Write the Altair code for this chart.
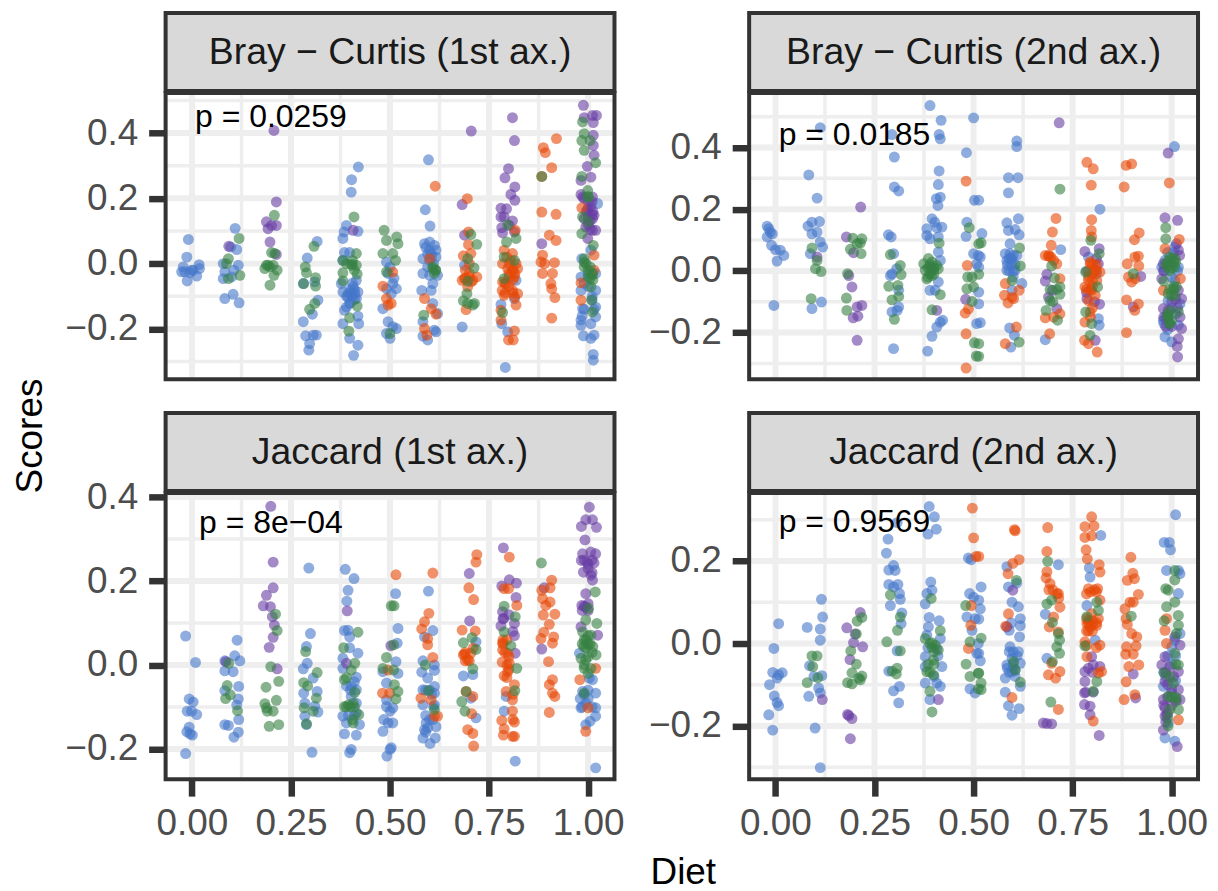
import altair as alt
import pandas as pd

titles = ["Bray \u2212 Curtis (1st ax.)", "Bray \u2212 Curtis (2nd ax.)", "Jaccard (1st ax.)", "Jaccard (2nd ax.)"]
pvals = ["p = 0.0259", "p = 0.0185", "p = 8e\u221204", "p = 0.9569"]
p_x = [0.008, 0.008, 0.018, 0.008]
p_y = [0.448, 0.442, 0.339, 0.295]
y_domains = [[-0.354, 0.523], [-0.351, 0.577], [-0.272, 0.41], [-0.329, 0.365]]
y_major = [[-0.2, 0, 0.2, 0.4], [-0.2, 0, 0.2, 0.4], [-0.2, 0, 0.2, 0.4], [-0.2, 0, 0.2]]
y_minor = [[-0.3, -0.1, 0.1, 0.3, 0.5], [-0.3, -0.1, 0.1, 0.3, 0.5], [-0.1, 0.1, 0.3], [-0.3, -0.1, 0.1, 0.3]]
x_major = [0, 0.25, 0.5, 0.75, 1]
x_minor = [0.125, 0.375, 0.625, 0.875]

bc1_blue = [(-.009,.074),(-.013,.02),(-.022,-.01),(.018,-.003),(-.018,-.025),(-.005,-.028),(-.012,-.053),(.012,-.038),(.003,-.02),(-.026,-.025),(-.001,-.02),(.019,-.015),
(.109,.108),(.113,.043),(.098,.051),(.079,0),(.117,-.005),(.083,-.025),(.106,-.02),(.079,-.046),(.1,-.041),(.083,-.107),(.104,-.094),(.119,-.12),
(.316,.068),(.291,.017),(.281,-.061),(.31,-.056),(.318,-.112),(.304,-.155),(.281,-.178),(.287,-.221),(.314,-.219),(.297,-.245),(.295,-.265),(.306,-.219),
(.42,.296),(.403,.257),(.402,.219),(.39,.117),(.384,.097),(.419,.099),(.381,.077),(.385,.034),(.398,.034),(.381,.01),(.377,-.061),(.381,-.087),(.407,-.071),(.419,-.087),(.402,-.092),(.415,-.107),(.398,-.122),(.385,-.143),(.419,-.161),(.381,-.184),(.421,-.184),(.398,-.229),(.419,-.25),(.408,-.281),(.394,-.102),(.411,-.092),(.39,-.133),(.415,-.051),
(.491,.005),(.5,-.01),(.491,-.077),(.507,-.061),(.516,-.077),(.503,-.092),(.482,-.138),(.495,-.178),(.507,-.193),(.516,-.199),(.491,-.214),(.5,-.229),(.495,-.03),(.51,-.045),
(.597,.318),(.589,.165),(.601,.115),(.587,.061),(.6,.066),(.612,.056),(.616,.041),(.583,.015),(.604,.031),(.616,.02),(.583,-.03),(.6,-.036),(.62,-.036),(.608,-.061),(.58,-.082),(.604,-.082),(.608,-.122),(.62,-.153),(.583,-.178),(.612,-.204),(.583,-.222),(.595,-.234),(.616,-.209),(.6,.01),
(.682,-.194),(.688,-.005),(.78,-.125),(.782,-.184),(.797,-.209),(.791,-.318),(.818,-.051),(.814,-.107),
(1.024,.184),(.984,.015),(1.007,.041),(.982,-.041),(1.019,-.03),(.982,-.082),(1.019,-.082),(.986,-.138),(1.019,-.133),(.982,-.173),(.982,-.189),(1.007,-.184),(.988,-.221),(1.007,-.229),(1.015,-.219),(1.013,-.278),(1.013,-.296),(1.019,-.163),
(1,-.07),(.99,-.06),(1.01,-.1),(.99,-.14),(.985,-.16),(1.01,-.11),(1.015,-.14),(1,-.03),
(.4,-.08),(.405,-.1),(.41,-.08),(.395,-.09),(.41,-.11),(.4,-.12),(.39,-.1),(.405,-.06),
(.605,.02),(.595,-.01),(.6,.04),(.59,.05),(.61,0),(.595,.03)]
bc1_purple = [(.093,.053),(.207,.408),(.213,.189),(.188,.128),(.201,.117),(.213,.117),(.192,.107),(.197,.066),(.213,.028),(.407,.102),
(.705,.406),(.682,.181),(.688,.087),(.809,.447),(.814,.377),(.799,.291),(.79,.263),(.815,.235),(.805,.212),(.815,.194),(.78,.17),(.794,.168),(.78,.143),(.788,.143),(.809,.131),(.782,.11),(.784,.094),(.801,.117),(.814,.097),(.883,.061),
(.988,.485),(.99,.447),(1.011,.454),(1.021,.454),(1.013,.432),(1.013,.393),(1.013,.362),(1.015,.332),(.998,.298),(1.007,.265),(.982,.255),(.982,.212),(1.011,.204),(1.007,.173),(1.015,.148),(.999,.163),(.99,.138),(1.011,.102),(1.019,.102),(.999,.077),(.986,.204),(.994,.112),(1.011,.138),
(1,.17),(1.01,.15),(1.005,.13),(.995,.16),(1.012,.16),(1,.12),(.99,.2),(1,.19),(1.01,.19),(1,.14),(1.005,.105)]
bc1_orange = [(.482,-.069),(.491,-.107),(.495,-.127),(.503,-.122),(.507,-.026),(.614,.237),(.6,.015),(.587,-.107),(.604,-.138),(.587,-.199),(.593,-.219),(.616,-.155),
(.695,.199),(.698,.097),(.698,.058),(.685,.024),(.704,.031),(.69,-.02),(.719,-.041),(.688,-.046),(.709,-.051),(.682,-.051),(.7,-.041),(.692,-.141),(.696,-.071),
(.816,.102),(.788,.041),(.809,.031),(.784,0),(.822,-.015),(.797,-.015),(.809,-.02),(.814,-.041),(.784,-.056),(.793,-.061),(.783,-.082),(.809,-.082),(.822,-.092),(.788,-.097),(.814,-.102),(.818,-.127),(.78,-.143),(.78,-.173),(.814,-.206),(.799,-.234),(.811,-.234),(.801,0),(.818,0),
(.92,.383),(.887,.355),(.892,.34),(.908,.294),(.883,.158),(.919,.151),(.902,.087),(.919,.071),(.885,.026),(.881,.005),(.89,0),(.915,.003),(.885,-.03),(.91,-.03),(.906,-.061),(.908,-.077),(.916,-.104),(.908,-.167),(.883,.267),
(.984,.171),(1.015,.026),(.982,-.059),(1.015,-.02),(.982,-.112),
(.8,-.03),(.81,-.02),(.79,-.06),(.81,-.05),(.8,-.07),(.795,.02),(.805,.01),(.815,-.03),(.8,-.04),(.79,-.09),(.81,-.09),
(.7,-.03),(.705,-.055),(.69,-.045),(.7,0)]
bc1_green = [(.119,.077),(.092,.015),(.087,0),(.121,-.036),(.092,-.046),(.208,.148),(.201,.034),(.209,.031),(.192,-.005),(.205,-.005),(.184,-.015),(.197,-.01),(.215,-.02),(.207,-.036),(.197,-.066),(.188,-.005),
(.308,.053),(.286,-.01),(.289,-.028),(.312,-.043),(.282,-.061),(.312,-.069),(.31,-.122),(.297,-.14),
(.409,.143),(.415,.031),(.381,.01),(.405,-.002),(.415,-.005),(.381,-.028),(.417,-.032),(.381,-.053),(.417,-.13),(.398,-.166),(.396,-.207),(.402,-.005),
(.485,.102),(.491,.071),(.482,.031),(.491,-.025),(.517,.082),(.52,.061),(.507,.031),(.514,.01),(.5,-.214),(.615,-.02),(.585,-.158),(.608,-.01),
(.704,.089),(.719,.059),(.696,.015),(.712,-.013),(.696,-.054),(.694,-.092),(.685,-.114),(.709,-.127),(.696,-.122),(.713,-.122),
(.797,.119),(.818,.077),(.794,.066),(.788,.02),(.814,.01),(.788,-.046),(.784,-.15),(.883,.267),
(.986,.434),(.99,.398),(.984,.377),(1.005,.377),(.99,.347),(1.019,.309),(.984,.267),(.999,.224),(1,.204),(.986,.143),(1,.128),(.984,.092),(1.013,.056),(.99,.005),(.99,-.01),(1.011,-.03),(1.007,-.071),(1.009,-.112),(1.011,-.148),(1,-.04),
(.995,0),(.99,.015),(1.005,-.01),(1,-.02),(1.01,-.035),(1.005,-.045),(1.012,-.05),(1,.205),
(.405,.01),(.39,0),(.41,-.02),(.615,-.02),(.612,-.03),(.608,-.015)]

bc2_blue = [(-.021,.145),(-.013,.126),(-.008,.12),(-.021,.11),(-.01,.083),(0,.069),(.012,.067),(.021,.05),(.004,.032),(-.004,-.112),(-.017,.137),
(.084,.311),(.105,.236),(.082,.145),(.092,.158),(.111,.16),(.092,.12),(.105,.126),(.113,.094),(.119,.077),(.088,.056),(.116,-.101),(.092,-.122),(.113,.464),
(.294,.442),(.3,.369),(.3,.272),(.311,.259),(.285,.117),(.292,.11),(.298,.056),(.306,.007),(.29,-.015),(.294,-.01),(.311,-.117),(.294,-.133),(.307,-.128),(.298,-.252),(.311,-.063),
(.39,.536),(.418,.488),(.413,.442),(.416,.428),(.413,.324),(.411,.28),(.416,.239),(.406,.234),(.41,.212),(.395,.169),(.402,.158),(.382,.137),(.42,.142),(.407,.14),(.382,.115),(.39,.104),(.411,.11),(.411,.061),(.416,.034),(.39,-.063),(.411,-.036),(.403,-.063),(.416,-.166),(.407,-.182),(.395,-.212),(.384,-.26),(.422,-.16),
(.482,.383),(.5,.496),(.502,.229),(.483,.158),(.481,.112),(.512,.05),(.5,.056),(.508,.023),(.508,-.171),(.513,.229),(.521,.121),(.517,.045),(.513,.012),(.513,-.069),(.513,-.107),(.517,-.168),
(.609,.421),(.609,.403),(.588,.302),(.612,.302),(.588,.253),(.613,.169),(.584,.156),(.605,.134),(.588,.131),(.615,.117),(.592,.088),(.58,.056),(.592,.056),(.609,.05),(.584,.034),(.597,.034),(.584,.002),(.605,.002),(.622,-.041),(.597,-.063),(.591,-.185),(.603,-.209),(.594,-.247),
(.72,.069),(.681,-.223),(.819,.2),(.815,-.155),(.817,-.176),(.79,.045),
(1.007,.403),(1.008,.077),(.975,.012),(1.017,.012),(1,-.02),(.979,-.16),(1.017,-.176),(.983,-.214),(1,-.23),(1.008,-.031),(.991,-.096),(1.021,-.107),(.983,.034),
(.99,.06),(1.005,.06),(.98,0),(1.015,0),(.985,-.15),(1.01,-.14),(.98,-.17),(1,-.12),(.99,-.19),
(.81,-.01),(.785,0),(.595,.04),(.6,.05),(.59,.04),(.605,.02),(.595,.02),(.59,0),(.6,0),(.6,-.02),(.585,.02)]
bc2_purple = [(.105,.045),(.215,.207),(.179,.11),(.197,.059),(.185,-.015),(.193,-.052),(.218,-.112),(.206,-.117),(.208,-.147),(.196,-.152),(.206,-.225),(.407,-.128),(.48,-.092),
(.716,.48),(.685,-.011),(.681,-.033),(.699,-.063),(.71,-.122),(.689,-.085),(.781,.063),(.817,.072),(.786,-.09),(.818,-.108),(.807,-.225),(.815,.023),(.922,-.018),(.903,-.117),
(.991,.382),(1.015,.164),(.983,.172),(1.012,.088),(1.017,.067),(.979,.023),(1.025,-.09),(.979,-.122),(1.021,-.15),(1.017,-.22),(1.014,-.245),(1.015,-.279),(.975,-.025),(1.025,-.187),(1.017,-.063),(.991,-.128),
(.98,0),(1.01,-.09),(1,-.1),(.985,-.18),(.98,-.15),(1.015,-.12),(1,-.18),(1.02,.05),(.81,.04),(.785,-.07),(.805,-.1)]
bc2_orange = [(.481,.291),(.481,-.204),(.481,-.315),(.479,-.137),(.487,-.123),(.484,.018),(.58,-.041),(.578,-.079),(.615,-.063),(.587,-.104),(.597,-.085),(.608,-.182),(.58,-.236),(.601,-.09),
(.708,.17),(.699,.126),(.696,.083),(.681,.05),(.689,.048),(.702,.034),(.71,.023),(.718,-.025),(.681,-.152),(.718,-.139),(.702,-.15),(.692,-.204),
(.786,.352),(.802,.331),(.797,.278),(.798,.166),(.797,.131),(.798,.11),(.794,.023),(.807,.002),(.819,-.004),(.79,-.02),(.811,-.031),(.781,-.052),(.798,-.063),(.807,-.079),(.794,-.133),(.781,-.166),(.78,-.225),(.79,-.236),(.812,-.263),(.79,-.096),
(.899,.347),(.885,.342),(.88,.272),(.918,.123),(.906,.101),(.916,.048),(.907,.045),(.888,.023),(.917,.016),(.891,-.02),(.908,-.025),(.899,-.036),(.886,-.094),(.916,-.107),(.907,-.128),(.886,-.2),
(.994,.285),(1.019,.102),(.983,.072),(1.022,-.025),(.979,-.063),
(.8,.02),(.81,.02),(.79,0),(.8,-.01),(.795,.03),(.81,0),(.8,-.03),(.79,-.03),(.8,-.05),(.795,-.06),(.785,-.06),(.8,-.12),(.795,-.15),(.69,.05),(.695,.045)]
bc2_green = [(.092,.074),(.105,.034),(.101,.007),(.115,-.002),(.09,-.09),(.195,.106),(.218,.104),(.206,.088),(.214,.09),(.189,.07),(.216,.056),(.182,-.009),(.179,-.088),(.18,-.128),
(.29,.053),(.315,.018),(.317,-.012),(.286,-.05),(.309,-.047),(.311,-.083),(.294,-.094),(.3,-.157),
(.413,.09),(.386,.04),(.374,.023),(.395,.029),(.407,.018),(.39,.012),(.378,.002),(.399,.007),(.411,.007),(.382,-.026),(.395,-.015),(.416,-.077),(.395,-.126),
(.489,.14),(.513,.088),(.485,-.02),(.496,-.02),(.483,-.058),(.5,-.052),(.496,-.099),(.502,-.233),(.507,-.276),(.519,.091),(.513,-.011),(.513,-.236),(.513,-.277),
(.616,.074),(.618,.016),(.597,-.031),(.615,-.231),(.718,.265),(.697,.016),(.704,-.023),(.718,-.052),(.693,-.061),(.718,-.076),(.693,-.096),(.683,-.128),(.712,-.16),
(.796,.099),(.817,.056),(.783,-.004),(.813,-.052),(.783,-.133),(.798,-.171),(.794,-.209),(.903,-.009),
(.985,.14),(.985,.104),(.995,.045),(1.008,.04),(.991,.012),(1.008,.012),(.98,-.033),(1.012,-.052),(.991,-.074),(1.008,-.079),(1.017,-.133),(.991,-.15),(.995,-.171),
(.995,.02),(1,.01),(1.005,.03),(.99,.03),(.985,.02),(1,.04),(1.01,.03),(.995,0),(1.005,-.06),(.995,-.06),(1,-.08),(1.005,-.05),(.99,-.15),(.995,-.13),(1,-.16),(.995,-.17),(.99,-.14),
(.39,.02),(.395,0),(.4,.01),(.385,.01),(.39,-.01),(.4,-.01),(.385,-.02),(.7,-.1),(.71,-.06)]

ja1_blue = [(-.016,.069),(.009,.006),(-.007,-.081),(.003,-.088),(-.012,-.11),(-.001,-.11),(.012,-.118),(-.007,-.148),(-.013,-.159),(.001,-.167),(-.005,-.164),(-.016,-.211),
(.114,.059),(.108,.022),(.121,.01),(.083,.01),(.083,-.014),(.104,-.016),(.118,-.051),(.083,-.061),(.117,-.081),(.113,-.095),(.118,-.13),(.083,-.142),(.092,-.144),(.117,-.16),(.106,-.172),
(.295,.231),(.299,.075),(.289,.044),(.291,.004),(.281,-.009),(.306,-.031),(.282,-.067),(.316,-.063),(.285,-.091),(.318,-.112),(.285,-.122),(.289,-.142),(.303,-.208),(.31,-.098),
(.387,.228),(.409,.206),(.394,.178),(.391,.152),(.385,.082),(.394,.083),(.398,.067),(.398,.041),(.419,.028),(.381,.016),(.381,-.008),(.415,-.029),(.402,-.051),(.415,-.059),(.415,-.091),(.381,-.122),(.415,-.114),(.39,-.138),(.423,-.142),(.385,-.164),(.415,-.167),(.402,-.201),(.398,-.209),(.402,-.075),
(.491,-.043),(.482,-.016),(.491,-.099),(.484,-.13),(.482,-.158),(.5,-.201),(.492,-.217),(.491,-.083),(.5,-.11),(.495,-.138),(.514,.17),(.52,.087),(.518,.052),(.515,.008),(.507,-.102),(.507,-.138),(.503,-.197),(.52,-.02),
(.597,.176),(.608,.082),(.587,.067),(.583,.01),(.612,0),(.58,-.017),(.612,-.013),(.595,-.031),(.612,-.051),(.583,-.059),(.612,-.067),(.583,-.095),(.612,-.095),(.591,-.138),(.616,-.147),(.587,-.154),(.614,-.174),(.583,-.174),(.601,-.187),(.608,-.13),
(.717,.055),(.685,-.026),(.709,-.023),(.704,-.079),(.717,-.126),(.788,-.11),(.816,-.229),(.793,-.075),
(.978,.028),(1.011,-.035),(.986,-.063),(1.019,-.067),(.982,-.102),(1.019,-.102),(1.019,-.122),(.994,-.142),(1.005,-.134),(1.019,-.245),(1.003,-.031),(.994,-.091),
(.99,-.07),(.98,-.08),(1,-.06),(.985,-.1),(1.01,-.1),(1,-.08),
(.4,-.06),(.41,-.04),(.39,-.05),(.41,-.12),(.395,-.12),(.6,-.06),(.59,-.06),(.605,-.07),(.59,-.12),(.6,-.13),(.61,-.1),(.595,-.15),(.59,-.16)]
ja1_purple = [(.086,.008),(.199,.378),(.205,.245),(.205,.184),(.188,.166),(.18,.141),(.198,.139),(.203,.115),(.208,.095),(.205,.066),(.195,.042),(.215,-.009),(.392,.129),(.39,.004),(.502,.046),
(.7,.218),(.701,.105),(.786,.279),(.801,.203),(.819,.195),(.782,.188),(.818,.161),(.784,.127),(.787,.111),(.78,.093),(.814,.099),(.814,.07),(.816,.028),(.889,.184),(.883,.038),
(1.003,.376),(.994,.346),(1.011,.346),(.983,.33),(1.021,.328),(.992,.298),(.986,.265),(1.007,.269),(1.019,.265),(.983,.249),(.998,.245),(1.015,.243),(.988,.221),(1.007,.214),(1.011,.202),(.994,.17),(.984,.142),(1,.146),(.994,.138),(.982,.091),(1.024,.071),
(1,.24),(.99,.25),(1.01,.22),(.99,.14),(1,.13),(.985,.13),(1,.23),(1.01,.25),(.785,.11),(.8,.12),(.81,.08)]
ja1_orange = [(.481,-.067),(.495,-.012),(.515,.215),(.499,-.067),(.608,.219),(.598,.123),(.587,.103),(.58,.086),(.595,.063),(.595,.048),(.608,.018),(.578,-.079),(.604,-.083),(.612,-.122),(.62,-.122),
(.719,.263),(.717,.245),(.699,.184),(.711,.156),(.682,.083),(.715,.081),(.688,.026),(.704,.028),(.696,.012),(.692,-.063),(.709,-.075),(.706,-.116),(.696,-.154),(.709,-.163),(.711,-.193),(.685,.024),
(.801,.257),(.788,.182),(.799,.182),(.82,.142),(.784,.053),(.784,.036),(.797,.028),(.783,.007),(.801,.004),(.797,-.016),(.788,-.026),(.814,-.047),(.793,-.063),(.809,-.083),(.809,-.11),(.782,-.132),(.814,-.136),(.788,-.152),(.786,-.167),(.814,-.17),(.809,-.17),
(.908,.202),(.904,.184),(.883,.178),(.885,.158),(.904,.15),(.893,.142),(.887,.119),(.916,.121),(.902,.097),(.888,.078),(.881,.063),(.913,.067),(.91,.052),(.9,.008),(.91,-.035),(.902,-.047),(.91,-.067),(.916,-.075),(.902,-.113),
(.979,-.035),(1.019,-.008),(1,-.102),(.994,-.158),
(.795,.06),(.785,.05),(.79,.03),(.8,.02),(.785,.06),(.8,-.01),(.795,-.03),(.795,0),(.81,-.07),(.81,-.13),(.69,.03),(.7,.01),(.69,.01),(.71,.04)]
ja1_green = [(.093,.004),(.089,-.049),(.097,-.071),(.085,-.08),(.115,-.109),(.211,.121),(.215,.082),(.199,-.004),(.219,-.039),(.187,-.053),(.213,-.084),(.184,-.092),(.188,-.102),(.205,-.11),(.19,-.11),(.219,-.142),(.195,-.146),
(.287,.032),(.316,-.018),(.282,-.042),(.292,-.05),(.314,-.079),(.283,-.102),(.306,-.11),(.289,-.14),
(.419,.078),(.383,.041),(.411,.004),(.402,-.012),(.385,-.035),(.411,-.065),(.385,-.099),(.4,-.1),(.407,-.091),(.421,-.118),(.407,-.138),
(.503,.141),(.491,.018),(.482,-.008),(.51,.141),(.509,.048),(.509,-.012),(.511,-.047),(.52,-.063),(.515,-.081),(.589,0),(.597,-.061),(.612,-.106),
(.707,.065),(.685,.053),(.717,.037),(.709,-.009),(.692,-.063),(.681,-.087),(.689,-.11),(.788,.14),(.816,.115),(.788,.079),(.805,.046),(.82,-.008),(.815,-.061),(.882,.243),
(1.018,.174),(1.001,.135),(.994,.107),(1.022,.099),(.986,.079),(1.007,.071),(.989,.044),(1.012,.044),(1.02,.024),(.982,.016),(.994,.012),(1.007,-.008),(.99,-.008),(.99,-.067),
(.995,.06),(1,.05),(.99,.06),(1.005,.05),(.995,.04),(1,.07),(.985,.05),(1.01,.03),(1,.02),(.99,0),(1,-.02),
(.39,-.1),(.395,-.095),(.41,-.1),(.405,-.13),(.39,-.03)]

ja2_blue = [(.008,.048),(-.004,-.012),(-.007,-.07),(.017,-.071),(.008,-.076),(.004,-.084),(-.015,-.1),(-.003,-.127),(.004,-.143),(.008,-.151),(-.017,-.173),(-.007,-.21),
(.116,.107),(.119,.064),(.08,.039),(.113,.035),(.113,.008),(.086,-.054),(.097,-.08),(.117,-.078),(.109,-.108),(.113,-.12),(.084,-.128),(.1,-.205),(.113,-.301),
(.307,.293),(.284,.253),(.28,.219),(.298,.189),(.286,.178),(.302,.177),(.286,.143),(.309,.143),(.298,.137),(.313,.121),(.315,.107),(.29,.092),(.319,.074),(.317,.048),(.307,-.018),(.286,-.067),(.298,-.115),(.313,-.104),(.311,-.144),
(.388,.332),(.401,.307),(.406,.277),(.385,.265),(.392,.149),(.395,.129),(.382,.121),(.378,.096),(.388,.063),(.413,.055),(.386,.04),(.382,.02),(.416,.012),(.378,-.032),(.378,-.056),(.42,-.056),(.378,-.096),(.416,-.104),(.407,-.096),(.39,-.136),(.407,-.012),
(.487,.207),(.494,.203),(.49,.121),(.5,.112),(.483,.064),(.504,.06),(.496,.032),(.508,-.024),(.491,-.11),(.504,-.12),(.512,0),(.519,.137),(.517,.084),(.513,.059),(.513,-.024),(.517,-.042),(.513,.105),
(.584,.186),(.609,.146),(.588,.137),(.597,.1),(.613,.089),(.618,.06),(.618,.043),(.59,.032),(.616,.016),(.592,-.008),(.613,-.02),(.584,-.052),(.597,-.036),(.618,-.048),(.58,-.084),(.597,-.068),(.618,-.104),(.58,-.118),(.588,-.151),(.615,-.158),(.597,-.174),(.605,-.08),
(.714,.191),(.681,.071),(.685,-.036),(.821,.262),(.792,.183),(.794,.161),(.786,.092),(.807,.008),
(1.01,.312),(.981,.245),(.994,.245),(.997,.227),(.987,.177),(1.017,.177),(1.021,.169),(1.017,.121),(1.008,.008),(1.021,.024),(1,-.008),(.983,-.229),(1.008,-.237),(.991,-.193),(.979,-.104),
(.99,-.03),(1,-.05),(1.01,-.03),(.985,-.08),(1,-.11),(1.01,-.09),(.98,-.07),
(.6,-.02),(.59,-.02),(.6,-.05),(.59,-.07),(.605,-.065),(.6,-.06),(.585,-.06),(.61,-.03),(.595,.05),(.385,-.01),(.41,-.03),(.4,-.08)]
ja2_purple = [(.118,-.136),(.214,.075),(.18,.038),(.201,.023),(.197,.002),(.22,-.008),(.188,-.039),(.185,-.175),(.193,-.182),(.182,-.172),(.189,-.231),(.411,-.136),(.599,.129),(.584,.04),
(.685,-.194),(.697,-.195),(.676,-.193),(.798,-.032),(.819,-.056),(.802,-.052),(.781,-.068),(.781,-.092),(.783,-.118),(.802,-.118),(.78,-.148),(.794,-.152),(.794,-.173),(.817,-.223),(.903,-.074),(.909,-.132),
(1.008,.016),(1.021,-.004),(.983,-.032),(.975,-.052),(1.017,-.068),(.995,-.056),(.983,-.092),(1.017,-.112),(.979,-.136),(.983,-.156),(.987,-.173),(.983,-.176),(.979,-.21),(1.014,-.25),(1.021,-.136),(1,-.12),
(.985,-.07),(.99,-.1),(.98,-.15),(.99,-.17),(.985,-.19),(1,-.15),(1.01,-.14),(.99,-.13),(1.005,-.08),(.79,-.06),(.8,-.07),(.78,-.12)]
ja2_orange = [(.497,.328),(.5,.256),(.506,.211),(.494,.092),(.493,.044),(.487,-.012),(.513,.211),
(.603,.276),(.615,.203),(.599,.194),(.587,.169),(.588,.072),(.581,.042),(.597,-.131),(.605,.273),
(.687,.281),(.685,.223),(.685,.174),(.683,.159),(.693,.145),(.714,.121),(.718,.088),(.702,.064),(.691,.04),(.714,.028),(.697,-.048),(.689,-.076),(.707,-.084),(.718,-.068),(.714,-.16),
(.798,.307),(.781,.283),(.804,.285),(.781,.257),(.798,.261),(.784,.227),(.787,.205),(.817,.191),(.819,.173),(.79,.133),(.813,.133),(.819,.105),(.798,.072),(.786,.048),(.811,.044),(.794,.04),(.781,.004),(.819,-.004),(.786,-.032),(.815,-.072),(.802,-.188),(.823,-.068),(.79,.056),(.815,.06),
(.897,.209),(.902,.17),(.888,.153),(.906,.157),(.916,.119),(.895,.1),(.903,.1),(.882,.084),(.885,.06),(.888,.046),(.899,.024),(.912,.016),(.886,-.008),(.91,-.006),(.884,-.026),(.903,-.026),(.892,-.056),(.917,-.052),(.885,-.093),(.88,-.136),(.907,-.124),
(.987,.06),(.983,.032),(.987,0),(1.017,-.185),
(.785,.12),(.795,.125),(.81,.125),(.805,.13),(.785,.03),(.79,.05),(.8,.045),(.8,.055),(.81,.05),(.785,.06),(.8,.03),(.79,.03),(.785,-.005),(.81,-.01),(.7,.13),(.71,.12),(.715,.11),(.69,.13)]
ja2_green = [(.092,-.03),(.105,-.03),(.094,-.056),(.107,-.083),(.08,-.095),(.218,.063),(.206,.054),(.204,.023),(.19,-.018),(.204,-.05),(.193,-.071),(.218,-.079),(.21,-.084),(.214,-.088),(.182,-.095),(.193,-.098),
(.29,.118),(.315,.064),(.308,.032),(.281,.004),(.315,-.018),(.294,-.067),(.307,-.06),(.305,-.074),
(.393,.109),(.416,.031),(.378,.012),(.395,.002),(.403,-.004),(.399,-.04),(.411,-.016),(.382,-.068),(.399,-.076),(.39,-.116),(.395,-.166),
(.48,.092),(.491,.004),(.481,-.05),(.491,-.08),(.512,-.072),(.512,-.11),(.519,.013),(.513,-.072),(.519,-.096),(.519,-.112),(.608,.153),(.601,-.044),(.605,-.064),(.618,-.094),
(.687,.199),(.697,.105),(.685,.096),(.699,.051),(.714,.024),(.717,.008),(.71,-.008),(.717,-.024),(.699,-.044),(.695,-.142),(.811,.1),(.815,.08),(.786,.065),(.781,-.006),(.811,-.092),(.802,-.116),(.898,.066),
(1.008,.177),(1.008,.154),(.985,.133),(.991,.129),(.987,.089),(1.008,.1),(1.017,.068),(.981,.055),(1.017,.044),(1.012,.024),(1.008,-.024),(1.017,-.052),(.981,-.071),(1.004,-.096),(.991,-.128),(1.012,-.136),(1.017,-.16),(.991,-.2),
(.995,-.08),(1,-.13),(1.01,-.13),(.995,-.16),(.99,-.18),(1.01,-.05),
(.395,-.01),(.39,0),(.4,-.02),(.4,-.05),(.385,-.05),(.39,-.07)]

panel_points = [
    [("blue", bc1_blue), ("purple", bc1_purple), ("orange", bc1_orange), ("green", bc1_green)],
    [("blue", bc2_blue), ("purple", bc2_purple), ("orange", bc2_orange), ("green", bc2_green)],
    [("blue", ja1_blue), ("purple", ja1_purple), ("orange", ja1_orange), ("green", ja1_green)],
    [("blue", ja2_blue), ("purple", ja2_purple), ("orange", ja2_orange), ("green", ja2_green)],
]
groups = ["blue", "purple", "orange", "green"]
colors = ["#4476C9", "#673EA3", "#E64807", "#358043"]

W, H, STRIP = 450, 287, 80
FONT = "Liberation Sans"
one = pd.DataFrame({"a": [0]})
x_scale = alt.Scale(domain=[-0.0665, 1.0665], nice=False, zero=False)


def axis_opts(vals, fmt, pad):
    return alt.Axis(values=vals, format=fmt, title=None, grid=False, domain=False,
                    labelFontSize=37, labelColor="#4D4D4D", labelFont=FONT, labelPadding=pad,
                    tickColor="#333333", tickWidth=6.5, tickSize=17)


def panel(i):
    y_scale = alt.Scale(domain=y_domains[i], nice=False, zero=False)
    x_axis = axis_opts(x_major, ".2f", 9) if i >= 2 else None
    y_axis = axis_opts(y_major[i], ".1f", 11)
    X = lambda f: alt.X(f, scale=x_scale, axis=x_axis)
    Y = lambda f: alt.Y(f, scale=y_scale, axis=y_axis)

    rows = [{"x": a, "y": b, "g": g, "o": groups.index(g)} for g, pts in panel_points[i] for a, b in pts]
    df = pd.DataFrame(rows)

    def rule_x(vals, width):
        return alt.Chart(pd.DataFrame({"v": vals})).mark_rule(color="#EEEEEE", strokeWidth=width).encode(x=X("v:Q"))

    def rule_y(vals, width):
        return alt.Chart(pd.DataFrame({"v": vals})).mark_rule(color="#EEEEEE", strokeWidth=width).encode(y=Y("v:Q"))

    pts = alt.Chart(df).mark_circle(size=120, opacity=0.6, clip=True, stroke=None).encode(
        x=X("x:Q"), y=Y("y:Q"),
        color=alt.Color("g:N", scale=alt.Scale(domain=groups, range=colors), legend=None),
        order=alt.Order("o:Q"),
    )
    label = alt.Chart(pd.DataFrame({"t": [pvals[i]], "x": [p_x[i]], "y": [p_y[i]]})).mark_text(
        align="left", baseline="middle", font=FONT, fontSize=32, color="#000000"
    ).encode(x=X("x:Q"), y=Y("y:Q"), text="t:N")
    border = alt.Chart(one).mark_rect(fillOpacity=0, stroke="#333333", strokeWidth=4).encode(
        x=alt.value(0), x2=alt.value(W), y=alt.value(0), y2=alt.value(H))
    strip = alt.Chart(one).mark_rect(fill="#D9D9D9", stroke="#333333", strokeWidth=4).encode(
        x=alt.value(0), x2=alt.value(W), y=alt.value(-STRIP), y2=alt.value(-2))
    strip_t = alt.Chart(pd.DataFrame({"t": [titles[i]]})).mark_text(
        align="center", baseline="middle", font=FONT, fontSize=37.5, color="#1A1A1A"
    ).encode(x=alt.value(W / 2), y=alt.value(-STRIP / 2), text="t:N")
    layers = [
        rule_x(x_minor, 3.5), rule_y(y_minor[i], 3.5),
        rule_x(x_major, 6), rule_y(y_major[i], 6),
        pts, label, border, strip, strip_t,
    ]
    if i == 2:
        layers.append(alt.Chart(pd.DataFrame({"t": ["Scores"]})).mark_text(
            align="center", baseline="middle", angle=270, font=FONT, fontSize=37, color="#000000"
        ).encode(x=alt.value(-135), y=alt.value(-57), text="t:N"))
        layers.append(alt.Chart(pd.DataFrame({"t": ["Diet"]})).mark_text(
            align="center", baseline="middle", font=FONT, fontSize=37, color="#000000"
        ).encode(x=alt.value(519), y=alt.value(381), text="t:N"))
    return alt.layer(*layers).properties(width=W, height=H)


chart = alt.concat(panel(0), panel(1), panel(2), panel(3), columns=2, bounds="flush",
                   spacing=alt.RowColnumber(row=114, column=135)).properties(
    padding={"left": 4, "top": 2, "right": 2, "bottom": 2}
).configure_view(stroke=None)

chart.save("out.html", embed_options={"renderer": "svg", "actions": False})
